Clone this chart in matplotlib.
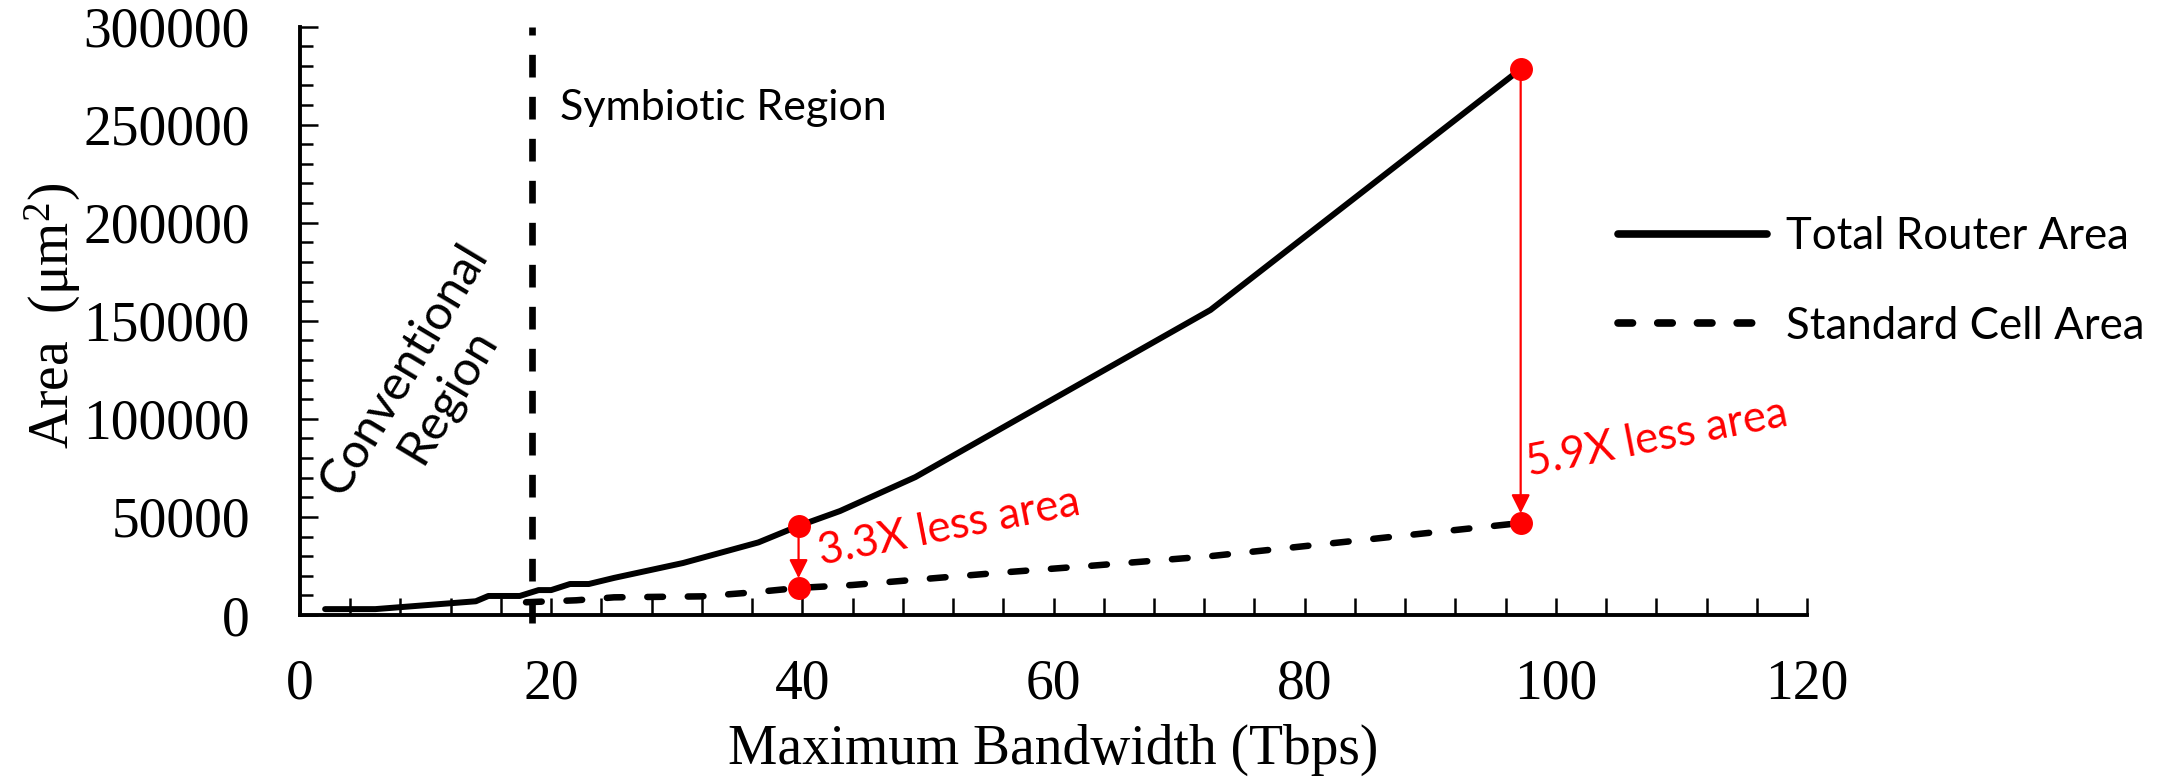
import matplotlib
matplotlib.use("Agg")
import matplotlib.pyplot as plt
from matplotlib.lines import Line2D
from matplotlib.ticker import MultipleLocator

# Router area versus maximum bandwidth
bandwidth_total = [2, 6, 14, 15, 17.5, 19, 20, 21.5, 23, 25, 30.5, 36.5, 39.7, 43, 49, 72.5, 97.2]
area_total = [3000, 3000, 7000, 9700, 9700, 12700, 12700, 15800, 15800, 18900,
              26500, 37000, 45400, 53000, 70300, 155500, 278300]

bandwidth_std = [18, 22, 25, 32, 36, 39.7, 44, 50, 56, 63, 72.5, 85, 97.2]
area_std = [6500, 7500, 9000, 9500, 11500, 13800, 15300, 18500, 21700, 25100, 30000, 38500, 46900]

# Highlighted comparison points
highlight_bw = [39.7, 97.2]
highlight_total = [45400, 278300]
highlight_std = [13800, 46900]
highlight_labels = ["3.3X less area", "5.9X less area"]

# Boundary between conventional and symbiotic operating regions
boundary_bw = 18.5

x_ticks = [0, 20, 40, 60, 80, 100, 120]
y_ticks = [0, 50000, 100000, 150000, 200000, 250000, 300000]

SERIF = "Liberation Serif"
SANS = "Lato"
plt.rcParams["mathtext.fontset"] = "custom"
plt.rcParams["mathtext.rm"] = SERIF
plt.rcParams["mathtext.it"] = SERIF + ":italic"

W, H = 2179, 778
fig = plt.figure(figsize=(W / 100, H / 100), dpi=100)
ax = fig.add_axes([300 / W, 1 - 615 / H, (1807 - 300) / W, (615 - 26.5) / H])

ax.set_xlim(0, 120)
ax.set_ylim(0, 300000)

for side in ("top", "right"):
    ax.spines[side].set_visible(False)
for side in ("left", "bottom"):
    ax.spines[side].set_linewidth(2.8)

ax.set_xticks(x_ticks)
ax.set_yticks(y_ticks)
ax.set_xticklabels([str(v) for v in x_ticks])
ax.set_yticklabels([str(v) for v in y_ticks])
ax.xaxis.set_minor_locator(MultipleLocator(4))
ax.yaxis.set_minor_locator(MultipleLocator(10000))
ax.tick_params(axis="x", which="both", direction="in", length=12, width=1.8, pad=31)
ax.tick_params(axis="y", which="major", direction="in", length=13, width=1.8, pad=36)
ax.tick_params(axis="y", which="minor", direction="in", length=9.5, width=1.8)
for lab in ax.get_xticklabels() + ax.get_yticklabels():
    lab.set_fontfamily(SERIF)
    lab.set_fontsize(40)

ax.set_xlabel("Maximum Bandwidth (Tbps)", fontfamily=SERIF, fontsize=40)
ax.xaxis.set_label_coords(0.5, -0.185)
ax.set_ylabel("Area  (μm$^{2}$)", fontfamily=SERIF, fontsize=40)
ax.yaxis.set_label_coords(-0.144, 0.508)

# Curves
ax.plot(bandwidth_total, area_total, color="black", lw=4.3,
        solid_capstyle="round", solid_joinstyle="round", zorder=3)
ax.plot(bandwidth_std, area_std, color="black", lw=4.7,
        linestyle=(0, (2.4, 3.8)), dash_capstyle="round", zorder=3)

# Region divider
ax.plot([boundary_bw, boundary_bw], [-4000, 300000], color="black", lw=4.8,
        linestyle=(0, (3.4, 2.9)), dash_capstyle="butt", clip_on=False, zorder=2)

ax.text(20.7, 252300, "Symbiotic Region", fontfamily=SANS, fontsize=31,
        ha="left", va="baseline")
ax.text(10.0, 118500, "Conventional\nRegion", fontfamily=SANS, fontsize=35,
        rotation=59, rotation_mode="anchor", ha="center", va="center",
        multialignment="center", linespacing=1.2)

# Highlighted reductions
for bw, top, bot in zip(highlight_bw, highlight_total, highlight_std):
    ax.annotate("", xy=(bw, bot), xytext=(bw, top),
                arrowprops=dict(arrowstyle="-|>", color="red", lw=1.6,
                                mutation_scale=28, shrinkA=6, shrinkB=7),
                zorder=4)
ax.plot(highlight_bw, highlight_total, "o", color="red", ms=15.5, zorder=5)
ax.plot(highlight_bw, highlight_std, "o", color="red", ms=15.5, zorder=5)

ax.text(41.5, 25500, highlight_labels[0], color="red", fontfamily=SANS, fontsize=31.5,
        rotation=11, rotation_mode="anchor", ha="left", va="baseline")
ax.text(97.9, 70800, highlight_labels[1], color="red", fontfamily=SANS, fontsize=31.5,
        rotation=11, rotation_mode="anchor", ha="left", va="baseline")

# Legend
handles = [
    Line2D([], [], color="black", lw=5.5, solid_capstyle="round"),
    Line2D([], [], color="black", lw=5.5, linestyle=(0, (1.9, 3.3)), dash_capstyle="round"),
]
fig.legend(handles, ["Total Router Area", "Standard Cell Area"],
           loc="center left", bbox_to_anchor=(1618 / W, 1 - 281.5 / H),
           frameon=False, borderpad=0, borderaxespad=0,
           handlelength=3.4, handletextpad=0.45, labelspacing=1.1,
           prop={"family": SANS, "size": 31.5})

fig.savefig("out.png", dpi=100)
